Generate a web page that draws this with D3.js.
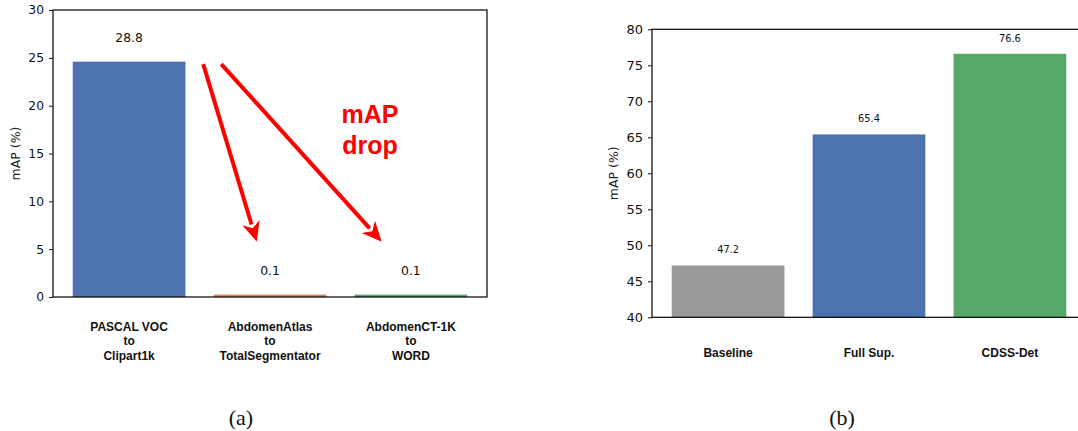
<!DOCTYPE html>
<html>
<head>
<meta charset="utf-8">
<script src="https://cdn.jsdelivr.net/npm/d3@7"></script>
<style>
  body { margin: 0; background: #fff; }
  svg { display: block; }
</style>
</head>
<body>
<svg id="drawing_region"></svg>
<script>
// panel (a)
const a_categories = [["PASCAL VOC", "to", "Clipart1k"], ["AbdomenAtlas", "to", "TotalSegmentator"], ["AbdomenCT-1K", "to", "WORD"]];
const a_values = [24.6, 0.25, 0.25];
const a_labels = ["28.8", "0.1", "0.1"];
const a_colors = ["#4c72b0", "#dd8452", "#55a868"];
const a_ticks = [0, 5, 10, 15, 20, 25, 30];
// arrows: [x0, y0, x1, y1] in bar-index / mAP units
const a_arrows = [[0.526, 24.35, 0.906, 5.78], [0.654, 24.35, 1.793, 5.78]];
const a_note = ["mAP", "drop"];

// panel (b)
const b_categories = [["Baseline"], ["Full Sup."], ["CDSS-Det"]];
const b_values = [47.2, 65.4, 76.6];
const b_labels = ["47.2", "65.4", "76.6"];
const b_colors = ["#999999", "#4c72b0", "#55a868"];
const b_ticks = [40, 45, 50, 55, 60, 65, 70, 75, 80];

const svg = d3.select('#drawing_region')
    .attr('width', 1078)
    .attr('height', 431);

class BarChart {

    constructor( config ) {
        this.config = config;
        this.init();
    }

    init() {
        let self = this;
        const c = self.config;

        self.g = svg.append('g');

        self.xscale = d3.scaleLinear()
            .domain([-0.54, 2.54])
            .range([c.left, c.right]);

        self.yscale = d3.scaleLinear()
            .domain(c.ydomain)
            .range([c.bottom, c.top]);

        self.yaxis = d3.axisLeft( self.yscale )
            .tickValues( c.ticks )
            .tickSize(4)
            .tickPadding(5);
    }

    render() {
        let self = this;
        const c = self.config;
        const x = self.xscale, y = self.yscale;
        const y0 = c.ydomain[0];

        // Draw bars
        self.g.selectAll('rect.bar')
            .data(c.values)
            .join('rect')
            .attr('class', 'bar')
            .attr('x', (d, i) => x(i - 0.4))
            .attr('width', x(0.4) - x(-0.4))
            .attr('y', d => y(d))
            .attr('height', d => y(y0) - y(d))
            .attr('fill', (d, i) => c.colors[i]);

        self.g.selectAll('text.val')
            .data(c.values)
            .join('text')
            .attr('class', 'val')
            .attr('x', (d, i) => x(i))
            .attr('y', d => y(d + c.label_offset))
            .attr('text-anchor', 'middle')
            .style('font-family', 'DejaVu Sans')
            .style('font-size', c.label_size + 'px')
            .attr('fill', '#111')
            .text((d, i) => c.labels[i]);

        // frame
        self.g.append('rect')
            .attr('x', c.left).attr('y', c.top)
            .attr('width', c.right - c.left)
            .attr('height', c.bottom - c.top)
            .attr('fill', 'none')
            .attr('stroke', '#000')
            .attr('stroke-width', 1.2);

        const ag = self.g.append('g')
            .attr('transform', `translate(${c.left}, 0)`)
            .call( self.yaxis );
        ag.select('.domain').remove();
        ag.selectAll('text')
            .style('font-family', 'DejaVu Sans')
            .style('font-size', c.tick_size + 'px')
            .attr('fill', '#111');
        ag.selectAll('line').attr('stroke', '#111');

        self.g.append('text')
            .attr('transform', `translate(${c.ylabel_x}, ${(c.top + c.bottom) / 2}) rotate(-90)`)
            .attr('text-anchor', 'middle')
            .style('font-family', 'DejaVu Sans')
            .style('font-size', '12.5px')
            .attr('fill', '#222')
            .text('mAP (%)');

        // category labels
        const cat = self.g.selectAll('text.cat')
            .data(c.categories)
            .join('text')
            .attr('class', 'cat')
            .attr('text-anchor', 'middle')
            .style('font-family', 'Liberation Sans')
            .style('font-weight', 'bold')
            .style('font-size', '12px')
            .attr('fill', '#111');
        cat.selectAll('tspan')
            .data((d, i) => d.map(t => ({ t: t, i: i })))
            .join('tspan')
            .attr('x', d => x(d.i))
            .attr('y', (d, j) => c.cat_y + j * 14.5)
            .text(d => d.t);

        self.g.append('text')
            .attr('x', c.caption_x)
            .attr('y', 425)
            .attr('text-anchor', 'middle')
            .style('font-family', 'Liberation Serif')
            .style('font-size', '22px')
            .attr('fill', '#111')
            .text(c.caption);
    }
}

const chart_a = new BarChart({
    left: 53, right: 487, top: 10, bottom: 297,
    ydomain: [0, 30], ticks: a_ticks,
    values: a_values, labels: a_labels, colors: a_colors, categories: a_categories,
    label_offset: 2.1, label_size: 12.4, tick_size: 12.3,
    ylabel_x: 19.5, cat_y: 330.5, caption: '(a)', caption_x: 241
});
chart_a.render();

const chart_b = new BarChart({
    left: 652, right: 1086, top: 29.3, bottom: 317.3,
    ydomain: [40, 80], ticks: b_ticks,
    values: b_values, labels: b_labels, colors: b_colors, categories: b_categories,
    label_offset: 1.7, label_size: 9.8, tick_size: 13,
    ylabel_x: 617.5, cat_y: 357.3, caption: '(b)', caption_x: 842
});
chart_b.render();

// red arrows on panel (a)
const xa = chart_a.xscale, ya = chart_a.yscale;
a_arrows.forEach(d => {
    const x0 = xa(d[0]), y0 = ya(d[1]), x1 = xa(d[2]), y1 = ya(d[3]);
    const len = Math.hypot(x1 - x0, y1 - y0);
    const ux = (x1 - x0) / len, uy = (y1 - y0) / len;
    const px = -uy, py = ux;
    const hl = 20, hw = 9, notch = 6;
    svg.append('line')
        .attr('x1', x0).attr('y1', y0)
        .attr('x2', x1 - ux * (hl - 2)).attr('y2', y1 - uy * (hl - 2))
        .attr('stroke', '#ff0000')
        .attr('stroke-width', 4);
    const bx = x1 - ux * hl, by = y1 - uy * hl;
    svg.append('path')
        .attr('d', `M${x1},${y1} L${bx + px * hw},${by + py * hw} L${x1 - ux * (hl - notch)},${y1 - uy * (hl - notch)} L${bx - px * hw},${by - py * hw} Z`)
        .attr('fill', '#ff0000');
});

svg.append('text')
    .attr('text-anchor', 'middle')
    .style('font-family', 'Liberation Sans')
    .style('font-weight', 'bold')
    .style('font-size', '25px')
    .attr('fill', '#ff0000')
    .selectAll('tspan')
    .data(a_note)
    .join('tspan')
    .attr('x', xa(1.71))
    .attr('y', (d, i) => ya(18.2 - i * 3.2))
    .text(d => d);
</script>
</body>
</html>
